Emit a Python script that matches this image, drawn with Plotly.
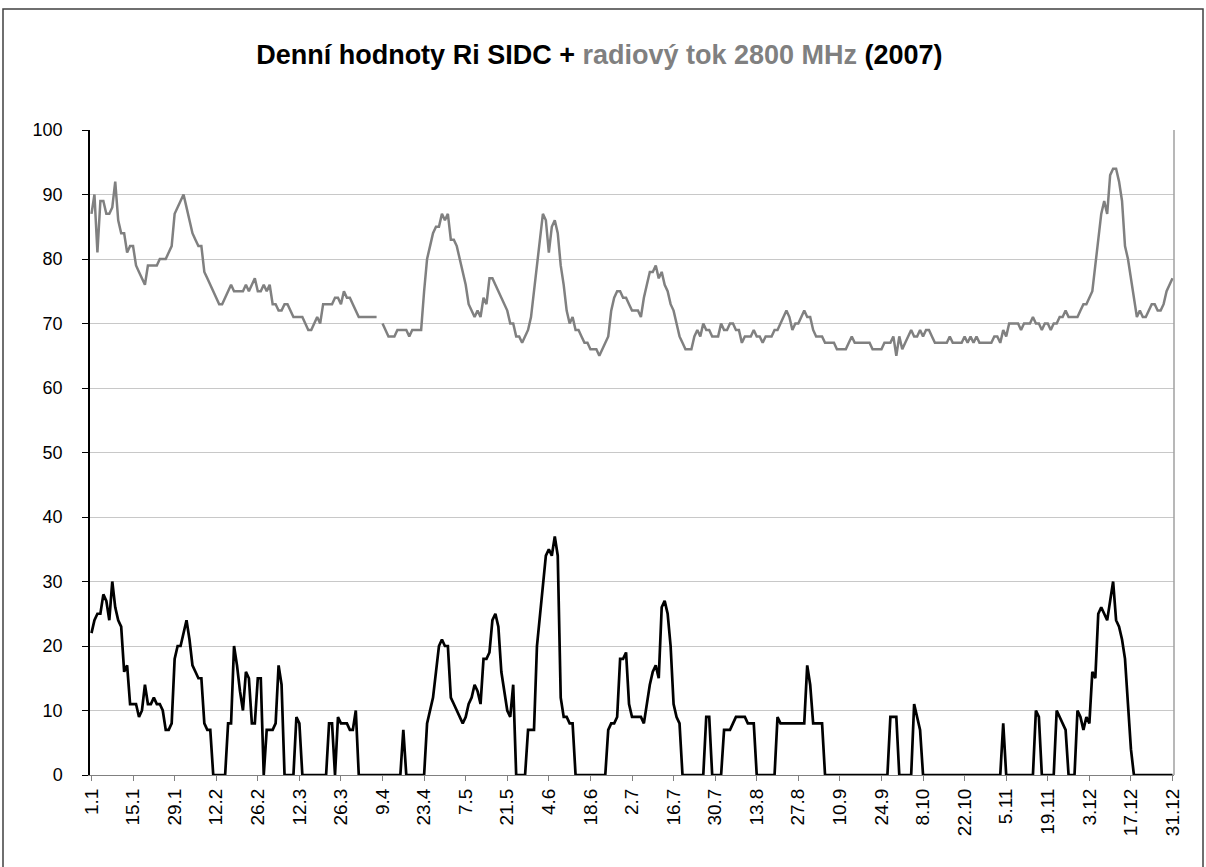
import plotly.graph_objects as go

# Daily radio flux 2800 MHz (grey) – 2007, day index 0..364
flux = [
    87, 90, 81, 89, 89, 87, 87, 88, 92, 86,
    84, 84, 81, 82, 82, 79, 78, 77, 76, 79,
    79, 79, 79, 80, 80, 80, 81, 82, 87, 88,
    89, 90, 88, 86, 84, 83, 82, 82, 78, 77,
    76, 75, 74, 73, 73, 74, 75, 76, 75, 75,
    75, 75, 76, 75, 76, 77, 75, 75, 76, 75,
    76, 73, 73, 72, 72, 73, 73, 72, 71, 71,
    71, 71, 70, 69, 69, 70, 71, 70, 73, 73,
    73, 73, 74, 74, 73, 75, 74, 74, 73, 72,
    71, 71, 71, 71, 71, 71, 71, None, 70, 69,
    68, 68, 68, 69, 69, 69, 69, 68, 69, 69,
    69, 69, 75, 80, 82, 84, 85, 85, 87, 86,
    87, 83, 83, 82, 80, 78, 76, 73, 72, 71,
    72, 71, 74, 73, 77, 77, 76, 75, 74, 73,
    72, 70, 70, 68, 68, 67, 68, 69, 71, 75,
    80, 84, 87, 86, 81, 85, 86, 84, 79, 76,
    72, 70, 71, 69, 69, 68, 67, 67, 66, 66,
    66, 65, 66, 67, 68, 72, 74, 75, 75, 74,
    74, 73, 72, 72, 72, 71, 74, 76, 78, 78,
    79, 77, 78, 76, 75, 73, 72, 70, 68, 67,
    66, 66, 66, 68, 69, 68, 70, 69, 69, 68,
    68, 68, 70, 69, 69, 70, 70, 69, 69, 67,
    68, 68, 68, 69, 68, 68, 67, 68, 68, 68,
    69, 69, 70, 71, 72, 71, 69, 70, 70, 71,
    72, 71, 71, 69, 68, 68, 68, 67, 67, 67,
    67, 66, 66, 66, 66, 67, 68, 67, 67, 67,
    67, 67, 67, 66, 66, 66, 66, 67, 67, 67,
    68, 65, 68, 66, 67, 68, 69, 68, 68, 69,
    68, 69, 69, 68, 67, 67, 67, 67, 67, 68,
    67, 67, 67, 67, 68, 67, 68, 67, 68, 67,
    67, 67, 67, 67, 68, 68, 67, 69, 68, 70,
    70, 70, 70, 69, 70, 70, 70, 71, 70, 70,
    69, 70, 70, 69, 70, 70, 71, 71, 72, 71,
    71, 71, 71, 72, 73, 73, 74, 75, 79, 83,
    87, 89, 87, 93, 94, 94, 92, 89, 82, 80,
    77, 74, 71, 72, 71, 71, 72, 73, 73, 72,
    72, 73, 75, 76, 77,
]

# Daily relative sunspot number Ri SIDC (black)
ri = [
    22, 24, 25, 25, 28, 27, 24, 30, 26, 24,
    23, 16, 17, 11, 11, 11, 9, 10, 14, 11,
    11, 12, 11, 11, 10, 7, 7, 8, 18, 20,
    20, 22, 24, 21, 17, 16, 15, 15, 8, 7,
    7, 0, 0, 0, 0, 0, 8, 8, 20, 17,
    13, 10, 16, 15, 8, 8, 15, 15, 0, 7,
    7, 7, 8, 17, 14, 0, 0, 0, 0, 9,
    8, 0, 0, 0, 0, 0, 0, 0, 0, 0,
    8, 8, 0, 9, 8, 8, 8, 7, 7, 10,
    0, 0, 0, 0, 0, 0, 0, 0, 0, 0,
    0, 0, 0, 0, 0, 7, 0, 0, 0, 0,
    0, 0, 0, 8, 10, 12, 16, 20, 21, 20,
    20, 12, 11, 10, 9, 8, 9, 11, 12, 14,
    13, 11, 18, 18, 19, 24, 25, 23, 16, 13,
    10, 9, 14, 0, 0, 0, 0, 7, 7, 7,
    20, 25, 30, 34, 35, 34, 37, 34, 12, 9,
    9, 8, 8, 0, 0, 0, 0, 0, 0, 0,
    0, 0, 0, 0, 7, 8, 8, 9, 18, 18,
    19, 11, 9, 9, 9, 9, 8, 11, 14, 16,
    17, 15, 26, 27, 25, 20, 11, 9, 8, 0,
    0, 0, 0, 0, 0, 0, 0, 9, 9, 0,
    0, 0, 0, 7, 7, 7, 8, 9, 9, 9,
    9, 8, 8, 8, 0, 0, 0, 0, 0, 0,
    0, 9, 8, 8, 8, 8, 8, 8, 8, 8,
    8, 17, 14, 8, 8, 8, 8, 0, 0, 0,
    0, 0, 0, 0, 0, 0, 0, 0, 0, 0,
    0, 0, 0, 0, 0, 0, 0, 0, 0, 9,
    9, 9, 0, 0, 0, 0, 0, 11, 9, 7,
    0, 0, 0, 0, 0, 0, 0, 0, 0, 0,
    0, 0, 0, 0, 0, 0, 0, 0, 0, 0,
    0, 0, 0, 0, 0, 0, 0, 8, 0, 0,
    0, 0, 0, 0, 0, 0, 0, 0, 10, 9,
    0, 0, 0, 0, 0, 10, 9, 8, 7, 0,
    0, 0, 10, 9, 7, 9, 8, 16, 15, 25,
    26, 25, 24, 27, 30, 24, 23, 21, 18, 11,
    4, 0, 0, 0, 0, 0, 0, 0, 0, 0,
    0, 0, 0, 0, 0,
]

tick_days = list(range(0, 365, 14))
tick_labels = ["1.1", "15.1", "29.1", "12.2", "26.2", "12.3", "26.3", "9.4", "23.4",
               "7.5", "21.5", "4.6", "18.6", "2.7", "16.7", "30.7", "13.8", "27.8",
               "10.9", "24.9", "8.10", "22.10", "5.11", "19.11", "3.12", "17.12", "31.12"]

y_ticks = list(range(0, 101, 10))

days = list(range(len(flux)))

fig = go.Figure()
fig.add_trace(go.Scatter(x=days, y=flux, mode="lines",
                         line=dict(color="#808080", width=2.5),
                         connectgaps=False, hoverinfo="skip"))
fig.add_trace(go.Scatter(x=list(range(len(ri))), y=ri, mode="lines",
                         line=dict(color="#000000", width=2.7),
                         hoverinfo="skip"))

FONT = "Liberation Sans, Arial, sans-serif"

fig.update_layout(
    width=1206, height=867,
    margin=dict(l=90, r=32, t=130, b=92),
    paper_bgcolor="white", plot_bgcolor="white",
    showlegend=False,
    font=dict(family=FONT, color="black"),
    title=dict(
        text="<b>Denní hodnoty Ri SIDC + <span style='color:#808080'>radiový tok 2800 MHz</span> (2007)</b>",
        x=0.497, xref="container", xanchor="center",
        y=1 - 55 / 867, yref="container", yanchor="middle",
        font=dict(family=FONT, size=27, color="black"),
    ),
    xaxis=dict(
        range=[-0.5, 364.5],
        tickmode="array", tickvals=tick_days, ticktext=tick_labels,
        tickangle=-90, tickfont=dict(family=FONT, size=19, color="black"),
        ticks="outside", ticklen=5, tickcolor="#808080",
        showgrid=False, zeroline=False,
        showline=True, linecolor="#808080", linewidth=1,
    ),
    yaxis=dict(
        range=[0, 100],
        tickmode="array", tickvals=y_ticks,
        tickfont=dict(family=FONT, size=18, color="black"),
        ticks="outside", ticklen=6, tickcolor="black",
        ticklabelstandoff=16,
        showgrid=True, gridcolor="#c8c8c8", gridwidth=1,
        zeroline=False,
        showline=True, linecolor="black", linewidth=1.5,
    ),
    shapes=[
        # plot-area right edge
        dict(type="line", xref="paper", yref="paper", x0=1, x1=1, y0=0, y1=1,
             line=dict(color="#a0a0a0", width=1.5)),
        # chart-area frame
        dict(type="rect", xref="paper", yref="paper",
             x0=(3 - 90) / 1084, x1=(1203 - 90) / 1084,
             y0=(775 - 900) / 645, y1=(775 - 9) / 645,
             line=dict(color="#404040", width=1.5), fillcolor="rgba(0,0,0,0)",
             layer="below"),
    ],
)

fig.write_html("out.html",
               config={"displayModeBar": False},
               post_script="document.body.style.margin='0';document.body.style.overflow='hidden';")
